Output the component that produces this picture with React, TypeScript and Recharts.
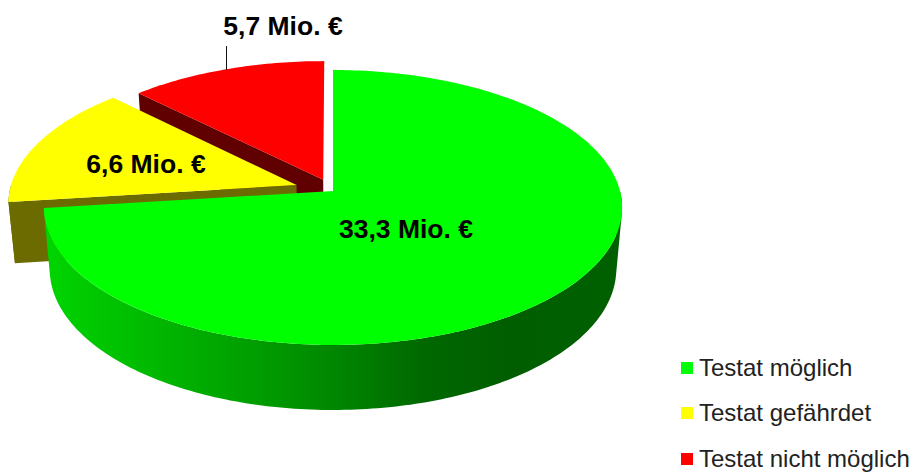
import React from 'react'
import { PieChart, Pie, Legend } from 'recharts'

const categories = ['Testat möglich', 'Testat gefährdet', 'Testat nicht möglich']
const values = [33.3, 6.6, 5.7]
const topColors = ['#00ff00', '#ffff00', '#ff0000']
const sideColors = ['url(#greenSide)', '#6b6b00', '#600000']
const explode = [0, 0.135, 0.09]
const labelAnchors = [
  { x: 406, y: 229 },
  { x: 146, y: 164 },
  { x: 283, y: 26 },
]

// slices are stacked back to front, so the pie runs counter-clockwise from the top
const table = categories
  .map((name, i) => ({
    name,
    value: values[i],
    fill: topColors[i],
    side: sideColors[i],
    explode: explode[i],
    anchor: labelAnchors[i],
  }))
  .reverse()

// tilt of the disc: vertical reach and perspective foreshortening
const TILT_Y = 135.5
const PERSPECTIVE = 0.12
const DEPTH = 61
const DEPTH_SHRINK = 0.98

const RAD = Math.PI / 180

const toPath = (pts: number[][]) =>
  'M' + pts.map((p) => p[0].toFixed(2) + ' ' + p[1].toFixed(2)).join('L') + 'Z'

// same winding for every quad, so overlaps in one path never cancel out
const wound = (pts: number[][]) => {
  let area = 0
  pts.forEach((p, i) => {
    const q = pts[(i + 1) % pts.length]
    area += p[0] * q[1] - q[0] * p[1]
  })
  return area < 0 ? [...pts].reverse() : pts
}

const SlabSector = (props: any) => {
  const { cx, cy, outerRadius, startAngle, endAngle, payload } = props
  const mid = ((startAngle + endAngle) / 2) * RAD
  const du = Math.cos(mid) * payload.explode
  const dv = Math.sin(mid) * payload.explode

  const top = (u: number, v: number) => {
    const w = 1 + PERSPECTIVE * v
    return [cx + (outerRadius * u) / w, cy - (TILT_Y * v) / w]
  }
  const bottom = (u: number, v: number) => {
    const [x, y] = top(u, v)
    return [cx + (x - cx) * DEPTH_SHRINK, y + DEPTH - 4 * v]
  }

  const rim: { t: number; p: number[] }[] = []
  const steps = Math.ceil(Math.abs(endAngle - startAngle))
  for (let i = 0; i <= steps; i++) {
    const t = (startAngle + ((endAngle - startAngle) * i) / steps) * RAD
    rim.push({ t, p: [Math.cos(t) + du, Math.sin(t) + dv] })
  }

  // only the front of the wall shows, the back stays behind the top face
  let band = ''
  for (let i = 0; i < rim.length - 1; i++) {
    const a = rim[i]
    const b = rim[i + 1]
    if (Math.sin((a.t + b.t) / 2) >= 0) continue
    band += toPath(wound([top(a.p[0], a.p[1]), top(b.p[0], b.p[1]), bottom(b.p[0], b.p[1]), bottom(a.p[0], a.p[1])]))
  }

  const apex = [du, dv]
  const face = (p: number[]) =>
    toPath([top(apex[0], apex[1]), top(p[0], p[1]), bottom(p[0], p[1]), bottom(apex[0], apex[1])])
  const first = rim[0]
  const last = rim[rim.length - 1]

  return (
    <g>
      {band && <path d={band} fill={payload.side} />}
      {Math.cos(first.t) > 0.01 && <path d={face(first.p)} fill={payload.side} />}
      {Math.cos(last.t) < -0.01 && <path d={face(last.p)} fill={payload.side} />}
      <path d={toPath([top(apex[0], apex[1]), ...rim.map((r) => top(r.p[0], r.p[1]))])} fill={payload.fill} />
    </g>
  )
}

const renderLabel = (props: any) => {
  const { name, value, anchor } = props.payload ?? props
  const isRed = name === categories[2]
  return (
    <g>
      {isRed && <line x1={226.5} y1={46} x2={226.5} y2={70} stroke="#111" strokeWidth={1} />}
      <text
        x={anchor.x}
        y={anchor.y}
        textAnchor="middle"
        dominantBaseline="central"
        fontFamily="Liberation Sans"
        fontWeight="bold"
        fontSize={26.5}
        fill="#000"
      >
        {value.toFixed(1).replace('.', ',') + ' Mio. €'}
      </text>
    </g>
  )
}

const LegendList = () => (
  <div style={{ fontFamily: 'Liberation Sans', fontSize: 24, color: '#222' }}>
    {categories.map((name, i) => (
      <div key={name} style={{ display: 'flex', alignItems: 'center', height: 45.5 }}>
        <span style={{ width: 12, height: 12, background: topColors[i], marginRight: 6 }} />
        <span style={{ whiteSpace: 'nowrap' }}>{name}</span>
      </div>
    ))}
  </div>
)

const App = () => {
  return (
    <div style={{ position: 'absolute', left: 0, top: 0 }}>
      <PieChart width={914} height={472} margin={{ top: 0, right: 0, bottom: 0, left: 0 }}>
        <defs>
          <linearGradient id="greenSide" gradientUnits="userSpaceOnUse" x1={48} y1={0} x2={620} y2={0}>
            <stop offset="0" stopColor="#00d400" />
            <stop offset="0.45" stopColor="#009000" />
            <stop offset="0.66" stopColor="#006800" />
            <stop offset="0.8" stopColor="#005e00" />
            <stop offset="1" stopColor="#006000" />
          </linearGradient>
        </defs>
        <Pie
          data={table}
          dataKey="value"
          nameKey="name"
          cx={333}
          cy={191}
          innerRadius={0}
          outerRadius={287}
          startAngle={90}
          endAngle={450}
          stroke="none"
          shape={SlabSector}
          label={renderLabel}
          labelLine={false}
          isAnimationActive={false}
        />
        <Legend
          content={LegendList}
          wrapperStyle={{ left: 681, top: 345, width: 233, bottom: 'auto', right: 'auto' }}
        />
      </PieChart>
    </div>
  )
}

export default App
